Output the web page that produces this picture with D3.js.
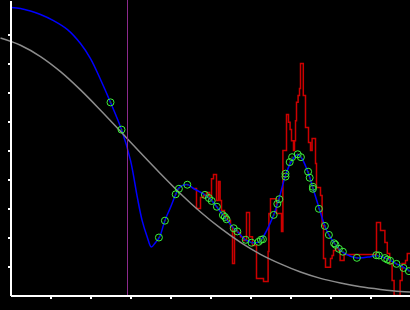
<!DOCTYPE html>
<head>
  <meta charset="utf-8">
  <script src="https://d3js.org/d3.v7.min.js"></script>
  <style>
    body { margin:0; background:#000; overflow:hidden; }
  </style>
</head>
<body>
<script>
  // fitted curve (blue)
  var fitX = [0.025,0.25,0.5,0.75,1.075,1.425,1.75,2.0,2.25,2.5,2.775,3.0,3.17,3.29,3.42,3.52,3.625,3.725,3.86,4.0,4.14,4.21,4.42,4.575,4.86,5.025,5.15,5.31,5.4,5.58,5.67,5.875,6.025,6.21,6.27,6.58,6.71,6.875,7.02,7.175,7.27,7.43,7.56,7.72,7.86,7.96,8.11,8.21,8.31,8.65,9.0,9.15,9.375,9.5,9.65,9.83,10.0];
  var fitY = [9.93,9.90,9.81,9.69,9.48,9.17,8.69,8.17,7.45,6.66,5.72,4.66,3.39,2.59,2.01,1.67,1.83,2.01,2.59,3.04,3.52,3.71,3.83,3.69,3.47,3.28,3.07,2.78,2.62,2.32,2.21,1.92,1.83,1.84,1.92,2.78,3.33,4.14,4.62,4.86,4.76,4.28,3.71,2.99,2.39,2.09,1.78,1.61,1.49,1.30,1.34,1.38,1.29,1.21,1.09,0.97,0.83];

  // background curve (gray)
  var baseX = [-0.25,0.25,0.75,1.25,1.75,2.25,2.75,3.25,3.75,4.25,4.75,5.25,5.75,6.25,6.75,7.25,7.75,8.25,8.75,9.25,9.75,10.0];
  var baseY = [8.88,8.63,8.24,7.72,7.09,6.39,5.66,4.92,4.20,3.51,2.88,2.32,1.83,1.42,1.09,0.81,0.59,0.43,0.30,0.21,0.14,0.12];

  // raw measurement (red step)
  var rawX = [4.575,4.65,4.75,4.825,4.9,4.975,5.025,5.075,5.15,5.2,5.24,5.275,5.35,5.425,5.5,5.55,5.6,5.675,5.75,5.825,5.9,5.975,6.05,6.15,6.325,6.44,6.46,6.5,6.65,6.775,6.81,6.9,6.95,6.99,7.025,7.075,7.1,7.125,7.15,7.19,7.225,7.25,7.32,7.375,7.45,7.5,7.54,7.625,7.65,7.75,7.79,7.825,7.875,8.0,8.04,8.075,8.125,8.2,8.24,8.34,9.15,9.25,9.36,9.42,9.48,9.54,9.59,9.74,9.79,9.875,9.92,10.0];
  var rawY = [3.69,3.0,3.38,3.45,3.55,3.41,4.03,4.17,3.28,3.93,3.28,2.93,2.72,2.59,2.38,1.10,2.24,2.17,2.03,1.90,2.86,2.03,1.72,0.59,0.48,1.52,2.83,3.34,2.83,2.21,5.0,6.24,5.97,5.72,5.34,5.0,5.34,6.03,6.66,6.90,7.14,8.0,6.90,5.79,5.28,5.0,5.41,4.55,3.72,3.45,2.41,1.28,0.97,1.28,1.38,1.55,1.62,1.55,1.21,1.41,2.52,2.24,1.83,1.45,1.10,0.52,0.0,0.52,1.10,1.21,1.45,1.45];

  // selected points (green circles)
  var ptX = [2.5,2.775,3.71,3.86,4.13,4.21,4.42,4.86,4.96,5.03,5.16,5.31,5.36,5.4,5.58,5.67,5.88,6.025,6.2,6.26,6.31,6.58,6.67,6.72,6.875,6.875,6.98,7.04,7.18,7.26,7.44,7.48,7.56,7.56,7.71,7.86,7.96,8.09,8.125,8.21,8.31,8.66,9.145,9.21,9.36,9.42,9.49,9.65,9.825,9.96];
  var ptY = [6.66,5.72,2.0,2.58,3.49,3.68,3.82,3.47,3.36,3.26,3.06,2.77,2.71,2.63,2.32,2.21,1.92,1.82,1.85,1.92,1.94,2.78,3.16,3.32,4.10,4.20,4.60,4.77,4.87,4.77,4.27,4.06,3.75,3.68,2.99,2.40,2.09,1.80,1.75,1.61,1.51,1.30,1.39,1.38,1.29,1.24,1.20,1.09,0.95,0.84];

  var markerX = 2.925;
  var tickVals = [1,2,3,4,5,6,7,8,9];

  var width = 410, height = 310;

  var svg = d3.select("body").append("svg")
    .attr("width", width)
    .attr("height", height)
    .style("background", "#000");

  var x = d3.scaleLinear().domain([0, 10]).range([10.5, 410.5]);
  var y = d3.scaleLinear().domain([0, 295.5 / 29]).range([295.5, 0]);

  var zip = function(xs, ys){ return xs.map(function(v, i){ return [v, ys[i]]; }); };

  svg.append("defs").append("clipPath").attr("id", "clip")
    .append("rect").attr("x", 11).attr("y", 0).attr("width", 400).attr("height", 295);

  var plot = svg.append("g").attr("clip-path", "url(#clip)");

  var mkLine = function(curve){
    return d3.line().x(function(d){ return x(d[0]); }).y(function(d){ return y(d[1]); }).curve(curve);
  };

  // gray curve runs left of the axis too
  svg.append("path")
    .datum(zip(baseX, baseY))
    .attr("d", mkLine(d3.curveMonotoneX))
    .attr("fill", "none")
    .attr("stroke", "#8c8c8c")
    .attr("stroke-width", 1.5);

  svg.append("line")
    .attr("x1", x(markerX)).attr("x2", x(markerX))
    .attr("y1", 0).attr("y2", y(0))
    .attr("stroke", "#8c2a8c")
    .attr("stroke-width", 1);

  plot.append("path")
    .datum(zip(rawX, rawY))
    .attr("d", mkLine(d3.curveStepAfter))
    .attr("fill", "none")
    .attr("stroke", "#cc0000")
    .attr("stroke-width", 1.5);

  plot.append("path")
    .datum(zip(fitX, fitY))
    .attr("d", mkLine(d3.curveCatmullRom.alpha(0.5)))
    .attr("fill", "none")
    .attr("stroke", "#0000ff")
    .attr("stroke-width", 1.5);

  var pts = svg.append("g").selectAll("g")
    .data(zip(ptX, ptY))
    .enter().append("g")
    .attr("transform", function(d){ return "translate(" + x(d[0]) + "," + y(d[1]) + ")"; });

  pts.append("circle")
    .attr("r", 3.5)
    .attr("fill", "none")
    .attr("stroke", "#3cf03c")
    .attr("stroke-width", 1);

  pts.append("circle")
    .attr("r", 0.8)
    .attr("fill", "#1f6f1f");

  // axes, no labels
  var xAxis = d3.axisBottom(x).tickValues(tickVals).tickSize(3).tickSizeOuter(0).tickFormat("");
  var yAxis = d3.axisLeft(y).tickValues(tickVals).tickSize(3).tickSizeOuter(0).tickFormat("");

  var gx = svg.append("g").attr("transform", "translate(0," + y(0) + ")").call(xAxis);
  var gy = svg.append("g").attr("transform", "translate(" + x(0) + ",0)").call(yAxis);

  [gx, gy].forEach(function(g){
    g.selectAll("path, line").attr("stroke", "#fff").attr("stroke-width", 1.5).attr("shape-rendering", "crispEdges");
  });
</script>
</body>
